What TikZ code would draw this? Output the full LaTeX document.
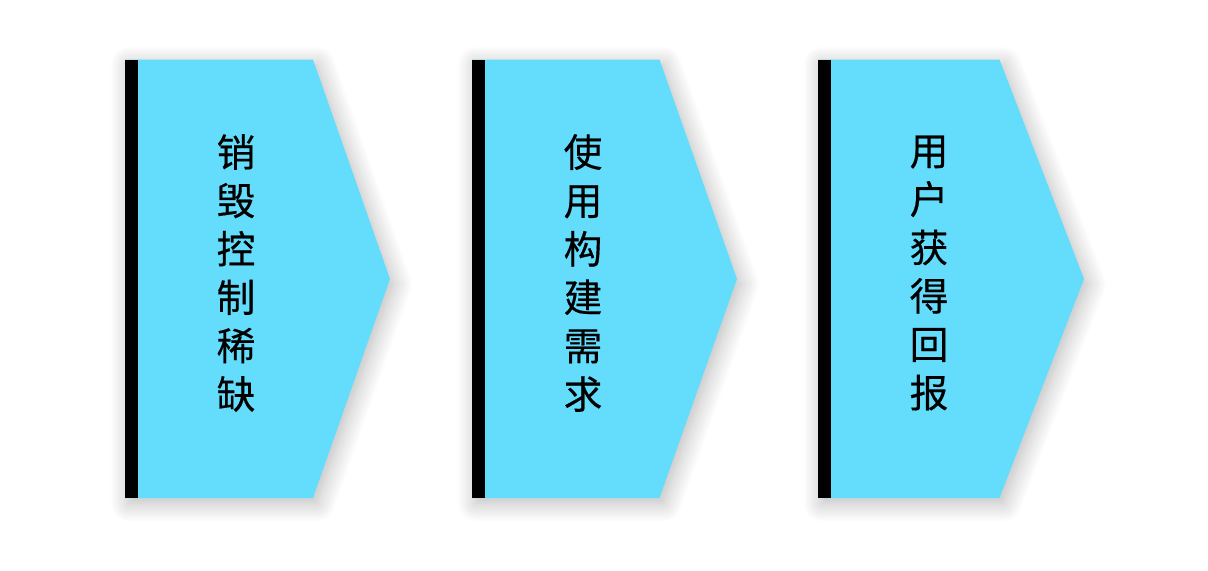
\documentclass[tikz,border=0pt]{standalone}
\usepackage{fontspec}
\newfontfamily\cjk[FakeBold=0.4]{Noto Sans CJK SC}
\usetikzlibrary{shadows.blur}
\begin{document}
\begin{tikzpicture}[x=0.75pt,y=-0.75pt,
  arrowshape/.style={fill=cyanfill, draw=none,
    blur shadow={shadow xshift=3pt, shadow yshift=-4pt, shadow blur radius=14pt, shadow blur steps=16, shadow opacity=28}},
  barshape/.style={fill=black, draw=none},
  label/.style={align=center, inner sep=0pt, font=\cjk\fontsize{29}{36.3}\selectfont}]
\definecolor{cyanfill}{HTML}{64DDFD}
\useasboundingbox (0,0) rectangle (1208,571);
\foreach \bx/\tx/\px/\cx/\nm/\txt in {125/313/390/236/a/{销\\毁\\控\\制\\稀\\缺}, 472/659.5/737/583/b/{使\\用\\构\\建\\需\\求}, 818/999.5/1084/929/c/{用\\户\\获\\得\\回\\报}} {
    \path[arrowshape] (\bx,59.5) -- (\tx,59.5) -- (\px,279) -- (\tx,498) -- (\bx,498) -- cycle;
    \fill[barshape] (\bx,59.5) rectangle (\bx+13,498);
    \node[label] (\nm) at (\cx,273) {\txt};
}
\end{tikzpicture}
\end{document}
